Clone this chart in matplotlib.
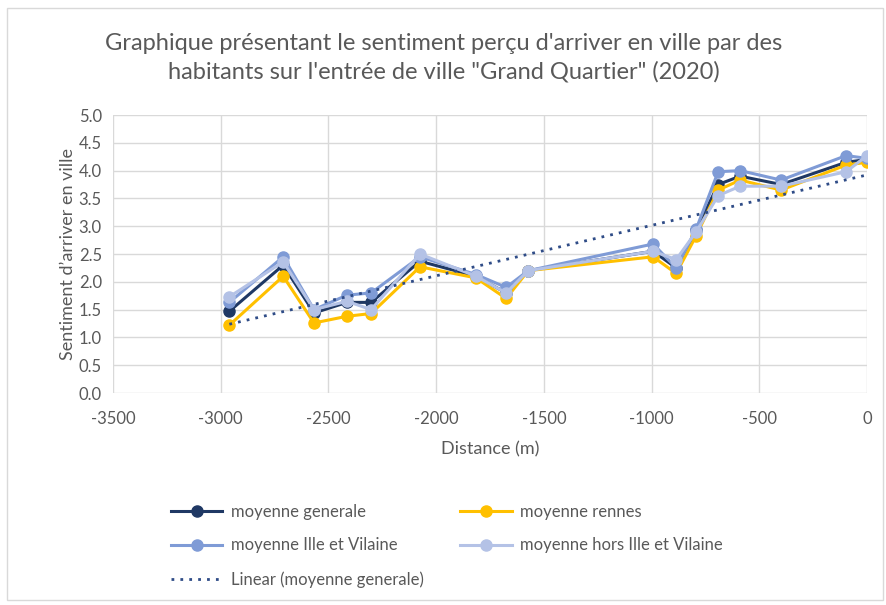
import numpy as np
import matplotlib
matplotlib.use("Agg")
from matplotlib import pyplot as plt
from matplotlib.patches import Rectangle

# distance to the town entrance (m) for each survey point
distance = [-2960, -2710, -2567, -2414, -2302, -2075, -1815, -1675, -1573,
            -993, -886, -793, -691, -589, -399, -97, 0]

moyenne_generale = [1.47, 2.30, 1.44, 1.63, 1.63, 2.37, 2.10, 1.80, 2.20,
                    2.55, 2.25, 2.93, 3.75, 3.90, 3.75, 4.15, 4.20]
moyenne_rennes = [1.22, 2.10, 1.26, 1.38, 1.43, 2.27, 2.07, 1.70, 2.20,
                  2.45, 2.15, 2.83, 3.65, 3.83, 3.65, 4.10, 4.15]
moyenne_ille = [1.63, 2.45, 1.50, 1.76, 1.80, 2.45, 2.13, 1.90, 2.20,
                2.68, 2.25, 2.95, 3.98, 4.00, 3.83, 4.27, 4.22]
moyenne_hors = [1.73, 2.36, 1.50, 1.65, 1.50, 2.50, 2.10, 1.80, 2.20,
                2.55, 2.40, 2.90, 3.55, 3.72, 3.72, 3.98, 4.27]

series_names = ["moyenne generale", "moyenne rennes",
                "moyenne Ille et Vilaine", "moyenne hors Ille et Vilaine"]
colors = ["#1F3864", "#FFC000", "#7F9BD6", "#B4C2E6"]

plt.rcParams['font.family'] = ['Lato', 'DejaVu Sans']
plt.rcParams['axes.unicode_minus'] = False
grey = "#595959"

fig = plt.figure(figsize=(8.87, 6.05), dpi=100)
fig.patches.append(Rectangle((0.008, 0.008), 0.987, 0.978, transform=fig.transFigure,
                             fill=False, edgecolor="#D9D9D9", linewidth=1))
ax = fig.add_axes([0.1274, 0.3504, 0.8501, 0.4595])

x = np.array(distance, dtype=float)
lines = []
for ys, name, col in zip([moyenne_generale, moyenne_rennes, moyenne_ille, moyenne_hors],
                         series_names, colors):
    ln, = ax.plot(x, ys, color=col, linewidth=2.2, marker="o", markersize=8,
                  label=name, zorder=3)
    lines.append(ln)

# linear trend of the overall mean
m, c = np.polyfit(x, moyenne_generale, 1)
xt = np.array([x.min(), x.max()])
trend, = ax.plot(xt, m * xt + c, color="#2F4C87", linestyle=(0, (1, 2.2)),
                 linewidth=2, label="Linear (moyenne generale)", zorder=4)

ax.set_xlim(-3500, 0)
ax.set_ylim(0, 5)
ax.set_xticks(np.arange(-3500, 1, 500))
ax.set_yticks(np.arange(0, 5.01, 0.5))
ax.set_yticklabels([f"{v:.1f}" for v in np.arange(0, 5.01, 0.5)])
ax.grid(True, color="#D9D9D9", linewidth=1)
ax.set_axisbelow(True)
for s in ax.spines.values():
    s.set_visible(False)
ax.tick_params(length=0, labelsize=12, colors=grey)
ax.tick_params(axis="x", pad=13)
ax.tick_params(axis="y", pad=8)

ax.set_xlabel("Distance (m)", fontsize=13, color=grey, labelpad=10)
ax.set_ylabel("Sentiment d\u2019arriver en ville", fontsize=13, color=grey, labelpad=2)
fig.suptitle("Graphique présentant le sentiment perçu d'arriver en ville par des\n"
             "habitants sur l'entrée de ville \"Grand Quartier\" (2020)",
             y=0.945, fontsize=17, color=grey, linespacing=1.35)

handles = [lines[0], lines[2], trend, lines[1], lines[3]]
fig.legend(handles=handles, labels=[h.get_label() for h in handles], ncol=2,
           loc="upper left", bbox_to_anchor=(0.185, 0.178), frameon=False,
           fontsize=12, labelcolor=grey, handlelength=3.1, columnspacing=2.2,
           handletextpad=0.5, labelspacing=1.05, borderaxespad=0)

fig.savefig("out.png", dpi=100)
